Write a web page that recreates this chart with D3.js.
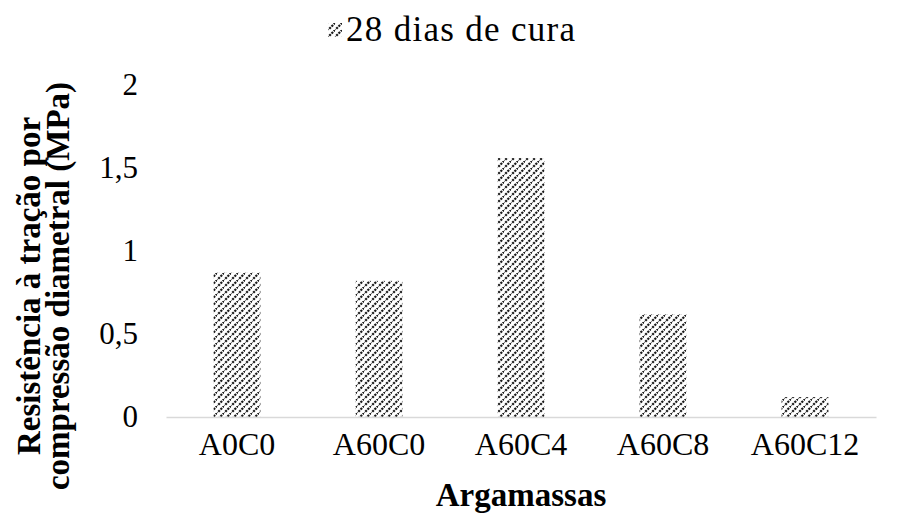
<!DOCTYPE html>
<html>
<head>
<meta charset="utf-8">
<script src="https://cdn.jsdelivr.net/npm/d3@7"></script>
<style>
  html, body { margin: 0; padding: 0; background: #fff; }
  svg { display: block; }
  text { font-family: "Liberation Serif", "Times New Roman", serif; fill: #000; }
</style>
</head>
<body>
<svg id="chart" width="904" height="513"></svg>
<script>
// Splitting tensile strength at 28 days per mortar mix
const categories = ["A0C0", "A60C0", "A60C4", "A60C8", "A60C12"];
const values = [0.87, 0.82, 1.56, 0.62, 0.12];
const yTicks = [0, 0.5, 1, 1.5, 2];
const seriesName = "28 dias de cura";
const yTitleLines = ["Resistência à tração por", "compressão diametral (MPa)"];
const xTitle = "Argamassas";

const W = 904, H = 513;
const svg = d3.select("#chart");

// hatch fill: wide upward diagonal
const defs = svg.append("defs");
const pat = defs.append("pattern")
  .attr("id", "hatch")
  .attr("patternUnits", "userSpaceOnUse")
  .attr("width", 7).attr("height", 7);
pat.append("rect").attr("width", 7).attr("height", 7).attr("fill", "#fff");
pat.append("path")
  .attr("d", "M-1,8 L8,-1 M-2,1 L1,-2 M6,9 L9,6")
  .attr("stroke", "#1a1a1a")
  .attr("stroke-width", 2.2)
  .attr("stroke-dasharray", "2.2,1");

const x = d3.scaleBand()
  .domain(categories)
  .range([166, 876])
  .paddingInner(0.67)
  .paddingOuter(0.335);

const y = d3.scaleLinear()
  .domain([0, 2])
  .range([417, 85]);

// bars
svg.append("g").selectAll("rect")
  .data(categories.map((c, i) => ({ c, v: values[i] })))
  .join("rect")
  .attr("x", d => x(d.c))
  .attr("y", d => y(d.v))
  .attr("width", x.bandwidth())
  .attr("height", d => y(0) - y(d.v))
  .attr("fill", "url(#hatch)");

// category axis line and labels
const xAxis = d3.axisBottom(x).tickSize(0).tickPadding(15);
const gx = svg.append("g")
  .attr("transform", `translate(0,${y(0)})`)
  .call(xAxis);
gx.select(".domain").attr("stroke", "#d9d9d9").attr("stroke-width", 1.5);
gx.selectAll("text")
  .attr("font-size", 32)
  .attr("font-family", "Liberation Serif")
  .attr("fill", "#000");

// value axis labels (no line, no gridlines)
const fmt = d => String(d).replace(".", ",");
const yAxis = d3.axisLeft(y).tickValues(yTicks).tickFormat(fmt).tickSize(0).tickPadding(28);
const gy = svg.append("g")
  .attr("transform", `translate(166,0)`)
  .call(yAxis);
gy.select(".domain").remove();
gy.selectAll("text")
  .attr("font-size", 31)
  .attr("font-family", "Liberation Serif")
  .attr("fill", "#000");

// legend
const legend = svg.append("g").attr("transform", "translate(328,23)");
legend.append("rect").attr("width", 14).attr("height", 14).attr("fill", "url(#hatch)");
legend.append("text")
  .attr("x", 18).attr("y", 18)
  .attr("font-size", 35)
  .attr("letter-spacing", 1.3)
  .text(seriesName);

// axis titles
svg.append("text")
  .attr("x", (x.range()[0] + x.range()[1]) / 2)
  .attr("y", 506)
  .attr("text-anchor", "middle")
  .attr("font-size", 33)
  .attr("font-weight", "bold")
  .text(xTitle);

const yt = svg.append("text")
  .attr("transform", `translate(0,${(y(0) + y(2)) / 2 + 35}) rotate(-90)`)
  .attr("text-anchor", "middle")
  .attr("font-size", 33)
  .attr("font-weight", "bold");
yTitleLines.forEach((line, i) => {
  yt.append("tspan").attr("x", 0).attr("y", 40 + i * 29).text(line);
});
</script>
</body>
</html>
